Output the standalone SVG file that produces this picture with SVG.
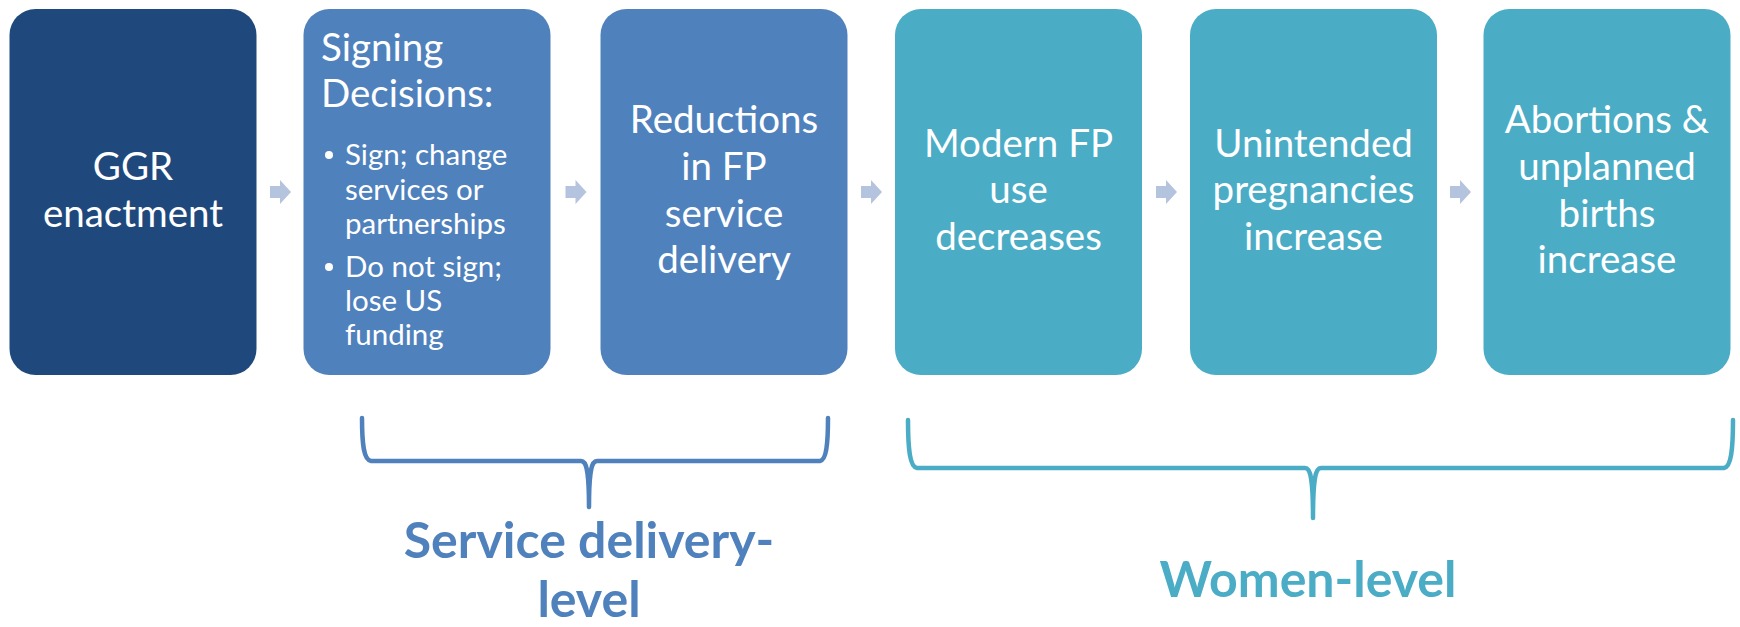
<svg xmlns="http://www.w3.org/2000/svg" width="1740" height="627" viewBox="0 0 1740 627">
<style>
  .box text { font-family: Lato, "Open Sans", sans-serif; fill: #ffffff; }
  .big { font-size: 38.5px; text-anchor: middle; }
  .left { font-size: 38.5px; }
  .small { font-size: 29.5px; }
  .bul { fill: #ffffff; }
  .lbl { font-family: Lato, "Open Sans", sans-serif; font-weight: bold; font-size: 50px; text-anchor: middle; }
  .arrow { fill: #B4C3DE; }
  .brace { fill: none; stroke-width: 4.5; stroke-linecap: round; stroke-linejoin: round; }
</style>
<defs>
  <path id="arr" d="M-10,-6 L0,-6 L0,-12 L11,0 L0,12 L0,6 L-10,6 Z"/>
</defs>
<rect width="1740" height="627" fill="#ffffff"/>

<g id="node-ggr" class="box">
  <rect x="9.5" y="9" width="247" height="366" rx="26" fill="#1F497D"/>
  <text class="big" x="133" y="180">GGR</text>
  <text class="big" x="133" y="227">enactment</text>
</g>

<g id="node-signing" class="box">
  <rect x="303.5" y="9" width="247" height="366" rx="26" fill="#4F81BD"/>
  <text class="left" x="321" y="61">Signing</text>
  <text class="left" x="321" y="107">Decisions:</text>
  <circle class="bul" cx="329" cy="155" r="4"/>
  <text class="small" x="345" y="165">Sign; change</text>
  <text class="small" x="345" y="200">services or</text>
  <text class="small" x="345" y="234">partnerships</text>
  <circle class="bul" cx="329" cy="267" r="4"/>
  <text class="small" x="345" y="277">Do not sign;</text>
  <text class="small" x="345" y="311">lose US</text>
  <text class="small" x="345" y="345">funding</text>
</g>

<g id="node-reductions" class="box">
  <rect x="600.5" y="9" width="247" height="366" rx="26" fill="#4F81BD"/>
  <text class="big" x="724" y="133">Reductions</text>
  <text class="big" x="724" y="180">in FP</text>
  <text class="big" x="724" y="227">service</text>
  <text class="big" x="724" y="273">delivery</text>
</g>

<g id="node-modern" class="box">
  <rect x="895" y="9" width="247" height="366" rx="26" fill="#4BACC6"/>
  <text class="big" x="1018.5" y="157">Modern FP</text>
  <text class="big" x="1018.5" y="203">use</text>
  <text class="big" x="1018.5" y="250">decreases</text>
</g>

<g id="node-unintended" class="box">
  <rect x="1190" y="9" width="247" height="366" rx="26" fill="#4BACC6"/>
  <text class="big" x="1313.5" y="157">Unintended</text>
  <text class="big" x="1313.5" y="203">pregnancies</text>
  <text class="big" x="1313.5" y="250">increase</text>
</g>

<g id="node-abortions" class="box">
  <rect x="1483.5" y="9" width="247" height="366" rx="26" fill="#4BACC6"/>
  <text class="big" x="1607" y="133">Abortions &amp;</text>
  <text class="big" x="1607" y="180">unplanned</text>
  <text class="big" x="1607" y="227">births</text>
  <text class="big" x="1607" y="273">increase</text>
</g>

<g id="connectors">
  <use href="#arr" class="arrow" x="280" y="192"/>
  <use href="#arr" class="arrow" x="575.5" y="192"/>
  <use href="#arr" class="arrow" x="871" y="192"/>
  <use href="#arr" class="arrow" x="1166" y="192"/>
  <use href="#arr" class="arrow" x="1460" y="192"/>
</g>

<g id="group-service">
  <path class="brace" stroke="#4F81BD" d="M362,418 C362,446 364,460 371,461 L581,461 C587,461 589,472 589,507 C589,472 591,461 597,461 L820,461 C826,460 828,446 828,418"/>
  <text class="lbl" fill="#4F81BD" x="589" y="558">Service delivery-</text>
  <text class="lbl" fill="#4F81BD" x="589" y="617">level</text>
</g>

<g id="group-women">
  <path class="brace" stroke="#4BACC6" d="M908,420 C908,450 910,467 917,468 L1305,468 C1311,468 1313,480 1313,518 C1313,480 1315,468 1321,468 L1724,468 C1731,467 1733,450 1733,420"/>
  <text class="lbl" fill="#4BACC6" x="1308" y="597">Women-level</text>
</g>
</svg>
